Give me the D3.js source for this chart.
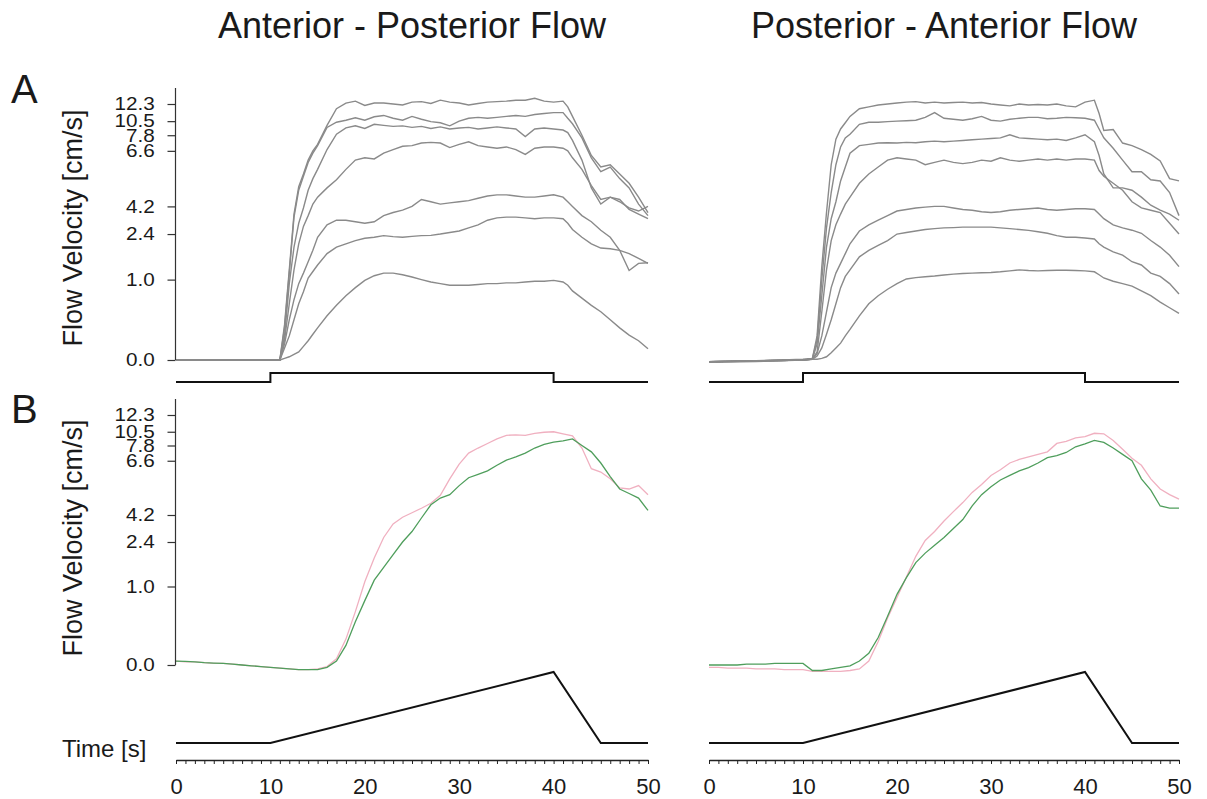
<!DOCTYPE html>
<html>
<head>
<meta charset="utf-8">
<script src="https://cdnjs.cloudflare.com/ajax/libs/d3/7.8.5/d3.min.js"></script>
<style>
  body { margin: 0; background: #fff; }
  text { font-family: Arial, "Liberation Sans", sans-serif; fill: #1a1a1a; }
</style>
</head>
<body>
<svg id="chart" width="1207" height="799"></svg>
<script>
// ---- data ----
var yTicks = [0.0, 1.0, 2.4, 4.2, 6.6, 7.8, 10.5, 12.3];
var xTicks = [0, 10, 20, 30, 40, 50];

// sample times (s) of the panel A traces
var timeA = [0, 5, 10, 11, 11.5, 12, 12.5, 13, 13.5, 14, 14.5, 15, 16, 17, 18, 19, 20, 21, 22, 23, 24, 25,
  26, 27, 28, 29, 30, 31, 32, 33, 34, 35, 36, 37, 38, 39, 40, 41, 41.5, 42, 43, 44, 45, 46, 47, 48, 49, 50];

// Anterior - Posterior, panel A (7 traces, cm/s)
var apA1 = [0, 0, 0, 0, 0.44, 1.3, 3.7, 5.05, 5.6, 6.2, 6.6, 7.1, 9.7, 11.8, 12.4, 12.6, 12.15, 12.4, 12.4, 12.3, 12.2, 12.5,
  12.55, 12.35, 12.7, 12.5, 12.4, 12.2, 12.35, 12.5, 12.55, 12.6, 12.7, 12.7, 12.9, 12.6, 12.5, 12.6, 12.0, 11.0, 7.8, 6.4, 5.9, 6.0, 5.6, 5.2, 4.6, 3.8];
var apA2 = [0, 0, 0, 0, 0.4, 1.2, 3.5, 4.9, 5.5, 6.1, 6.5, 7.0, 9.3, 10.3, 10.6, 10.85, 10.6, 10.96, 11.1, 10.8, 10.6, 11.0,
  10.7, 10.4, 10.2, 9.6, 10.5, 10.8, 10.9, 10.8, 10.9, 11.0, 11.1, 11.0, 11.2, 11.3, 11.4, 11.4, 10.8, 10.0, 7.6, 6.3, 5.7, 5.9, 5.4, 5.0, 4.3, 3.6];
var apA3 = [0, 0, 0, 0, 0.3, 0.95, 2.0, 3.1, 4.1, 4.9, 5.4, 5.8, 6.7, 8.0, 9.2, 9.6, 9.1, 9.9, 9.7, 9.5, 9.6, 9.3,
  9.5, 9.1, 9.4, 9.0, 9.2, 9.3, 9.0, 9.2, 9.4, 9.2, 9.0, 7.7, 9.0, 9.2, 9.0, 8.8, 8.3, 7.4, 6.2, 5.0, 4.3, 4.6, 4.5, 4.0, 3.7, 3.4];
var apA4 = [0, 0, 0, 0, 0.25, 0.7, 1.3, 2.1, 2.9, 3.6, 4.3, 4.6, 5.0, 5.35, 5.8, 6.2, 6.3, 6.25, 6.5, 6.7, 6.95, 7.0,
  7.2, 7.25, 7.2, 6.85, 7.1, 7.3, 7.0, 6.9, 6.8, 6.9, 6.7, 6.45, 6.8, 6.9, 6.9, 6.8, 6.6, 6.3, 5.8, 5.1, 4.5, 4.6, 4.4, 4.1, 3.9, 4.2];
var apA5 = [0, 0, 0, 0, 0.2, 0.5, 0.75, 0.95, 1.2, 1.55, 1.9, 2.3, 3.0, 3.3, 3.3, 3.2, 3.1, 3.2, 3.6, 3.8, 3.96, 4.2,
  4.5, 4.4, 4.3, 4.35, 4.4, 4.45, 4.55, 4.65, 4.7, 4.7, 4.65, 4.6, 4.6, 4.65, 4.7, 4.6, 4.4, 4.2, 3.6, 3.2, 2.65, 2.3, 1.9, 1.28, 1.5, 1.52];
var apA6 = [0, 0, 0, 0, 0.15, 0.3, 0.5, 0.7, 0.85, 1.05, 1.25, 1.45, 1.8, 2.0, 2.1, 2.2, 2.27, 2.3, 2.35, 2.32, 2.3, 2.33,
  2.35, 2.36, 2.4, 2.5, 2.6, 2.8, 3.0, 3.3, 3.45, 3.5, 3.5, 3.45, 3.4, 3.45, 3.45, 3.4, 3.1, 2.7, 2.3, 2.1, 1.97, 1.95, 1.9, 1.8, 1.65, 1.5];
var apA7 = [0, 0, 0, 0, 0.02, 0.04, 0.07, 0.1, 0.17, 0.24, 0.32, 0.4, 0.55, 0.68, 0.8, 0.9, 0.99, 1.12, 1.2, 1.2, 1.15, 1.08,
  1.0, 0.97, 0.95, 0.93, 0.93, 0.93, 0.94, 0.95, 0.95, 0.96, 0.96, 0.97, 0.98, 0.98, 0.99, 0.97, 0.93, 0.86, 0.77, 0.68, 0.6, 0.5, 0.4, 0.31, 0.24, 0.14];

// Posterior - Anterior, panel A
var paA1 = [-0.02, -0.01, 0.01, 0.02, 0.3, 1.4, 3.8, 6.0, 7.5, 9.0, 10.2, 11.0, 11.8, 12.0, 12.2, 12.3, 12.4, 12.5, 12.55, 12.4, 12.5, 12.4,
  12.45, 12.5, 12.4, 12.45, 12.3, 12.2, 12.1, 12.3, 12.2, 12.25, 12.2, 12.3, 12.1, 12.0, 12.5, 12.7, 11.3, 8.7, 8.9, 7.2, 7.0, 6.7, 6.45, 6.16, 5.4, 5.3];
var paA2 = [-0.02, -0.01, 0.0, 0.02, 0.25, 1.0, 2.8, 4.8, 6.0, 6.9, 7.6, 8.0, 9.9, 10.3, 10.3, 10.4, 10.5, 10.55, 10.6, 10.9, 11.4, 10.8,
  10.7, 10.6, 10.75, 11.0, 10.6, 10.5, 10.7, 10.8, 10.9, 10.9, 10.75, 10.8, 10.9, 10.85, 10.8, 10.6, 9.0, 7.6, 6.8, 6.2, 5.7, 5.7, 5.35, 5.3, 4.8, 3.6];
var paA3 = [-0.03, -0.01, 0.0, 0.01, 0.2, 0.8, 2.0, 3.4, 4.4, 5.3, 5.9, 6.5, 7.0, 7.1, 7.2, 7.22, 7.2, 7.25, 7.22, 7.3, 7.35, 7.3,
  7.35, 7.4, 7.45, 7.5, 7.55, 7.6, 7.9, 7.6, 7.55, 7.5, 7.45, 7.5, 7.4, 7.6, 7.9, 7.3, 6.4, 5.6, 5.0, 5.0, 4.9, 4.6, 4.25, 3.96, 3.7, 3.3];
var paA4 = [-0.03, -0.02, 0.0, 0.01, 0.1, 0.6, 1.3, 2.2, 3.0, 3.7, 4.3, 4.6, 5.2, 5.6, 5.9, 6.2, 6.3, 6.25, 6.2, 6.0, 6.1, 6.2,
  6.1, 6.05, 6.1, 6.2, 6.15, 6.3, 6.2, 6.15, 6.2, 6.25, 6.2, 6.25, 6.2, 6.25, 6.25, 6.2, 5.75, 5.5, 5.2, 4.9, 4.4, 4.1, 3.95, 3.8, 3.1, 2.4];
var paA5 = [-0.02, -0.01, 0.0, 0.01, 0.08, 0.3, 0.6, 0.9, 1.2, 1.5, 1.8, 2.1, 2.6, 3.0, 3.3, 3.6, 3.9, 4.0, 4.1, 4.15, 4.2, 4.2,
  4.1, 4.0, 3.95, 3.85, 3.8, 3.85, 3.95, 4.0, 4.05, 4.1, 4.0, 3.95, 4.0, 4.05, 4.05, 4.0, 3.7, 3.4, 3.0, 2.8, 2.65, 2.45, 2.2, 2.0, 1.75, 1.4];
var paA6 = [-0.02, -0.01, 0.0, 0.01, 0.05, 0.15, 0.32, 0.5, 0.7, 0.9, 1.1, 1.3, 1.7, 1.9, 2.05, 2.2, 2.4, 2.5, 2.6, 2.7, 2.75, 2.8,
  2.82, 2.85, 2.85, 2.85, 2.85, 2.8, 2.75, 2.7, 2.64, 2.55, 2.45, 2.35, 2.3, 2.3, 2.28, 2.25, 2.1, 2.0, 1.85, 1.75, 1.55, 1.45, 1.2, 1.1, 0.95, 0.82];
var paA7 = [-0.02, -0.01, 0.0, 0.01, 0.01, 0.02, 0.04, 0.09, 0.15, 0.21, 0.3, 0.38, 0.55, 0.7, 0.8, 0.88, 0.95, 1.02, 1.06, 1.09, 1.11, 1.14,
  1.17, 1.19, 1.2, 1.21, 1.22, 1.24, 1.27, 1.3, 1.28, 1.27, 1.28, 1.29, 1.29, 1.28, 1.27, 1.24, 1.15, 1.05, 0.98, 0.95, 0.92, 0.86, 0.8, 0.72, 0.65, 0.58];

// panel B, one sample per second
var timeB = [0, 1, 2, 3, 4, 5, 6, 7, 8, 9, 10, 11, 12, 13, 14, 15, 16, 17, 18, 19, 20, 21, 22, 23, 24, 25,
  26, 27, 28, 29, 30, 31, 32, 33, 34, 35, 36, 37, 38, 39, 40, 41, 42, 43, 44, 45, 46, 47, 48, 49, 50];
var apPink = [0.05, 0.04, 0.04, 0.03, 0.02, 0.02, 0.01, 0.0, -0.01, -0.02, -0.03, -0.04, -0.05, -0.06, -0.06, -0.05,
  -0.02, 0.08, 0.33, 0.68, 1.15, 1.9, 2.7, 3.6, 4.05, 4.3, 4.5, 4.72, 5.07, 5.8, 6.45, 7.2, 7.6, 8.2, 9.1, 9.8,
  9.9, 9.8, 10.2, 10.4, 10.5, 10.1, 9.7, 7.6, 6.25, 6.1, 5.8, 5.4, 5.35, 5.5, 5.1];
var apGreen = [0.05, 0.045, 0.04, 0.03, 0.025, 0.02, 0.01, 0.0, -0.01, -0.02, -0.03, -0.04, -0.05, -0.06, -0.06, -0.06,
  -0.03, 0.05, 0.25, 0.55, 0.82, 1.2, 1.6, 2.0, 2.4, 3.1, 4.0, 4.65, 4.95, 5.1, 5.5, 5.85, 6.0, 6.15, 6.4, 6.65,
  6.9, 7.2, 7.6, 8.0, 8.45, 8.7, 9.1, 7.8, 7.3, 6.5, 5.9, 5.35, 5.15, 4.95, 4.4];
var paPink = [-0.03, -0.03, -0.04, -0.04, -0.04, -0.05, -0.05, -0.05, -0.06, -0.06, -0.06, -0.08, -0.08, -0.08, -0.08, -0.07,
  -0.05, 0.05, 0.3, 0.6, 0.86, 1.3, 1.95, 2.5, 3.1, 3.8, 4.35, 4.75, 5.2, 5.55, 5.95, 6.2, 6.5, 6.7, 6.9, 7.1,
  7.3, 8.2, 8.6, 9.3, 9.55, 10.2, 10.1, 8.8, 7.5, 6.8, 6.4, 5.8, 5.35, 5.1, 4.9];
var paGreen = [0.0, 0.0, 0.0, 0.0, 0.01, 0.01, 0.01, 0.02, 0.02, 0.02, 0.02, -0.07, -0.07, -0.05, -0.03, -0.01,
  0.05, 0.15, 0.35, 0.62, 0.9, 1.28, 1.75, 2.05, 2.3, 2.7, 3.3, 3.9, 4.6, 5.1, 5.45, 5.75, 5.95, 6.15, 6.3, 6.5,
  6.85, 7.0, 7.25, 7.7, 8.1, 8.8, 8.4, 7.6, 7.1, 6.6, 5.8, 5.3, 4.6, 4.5, 4.5];

// stimulus protocols
var stepTimes = [0, 10, 10, 40, 40, 50];
var stepLevels = [0, 0, 1, 1, 0, 0];
var rampTimes = [0, 10, 40, 45, 50];
var rampLevels = [0, 0, 1, 0, 0];

// ---- layout ----
var svg = d3.select("#chart");
var tickPos = [0, 0.314, 0.492, 0.600, 0.817, 0.878, 0.933, 1]; // where each tick sits on the axis (fraction)

function flowScale(y0, yTop) {
  return d3.scaleLinear().domain(yTicks).range(tickPos.map(function(f) { return y0 - (y0 - yTop) * f; }));
}
var yA = flowScale(360, 104);
var yB = flowScale(665, 415);
var stepY = d3.scaleLinear().domain([0, 1]).range([382, 373]);
var rampY = d3.scaleLinear().domain([0, 1]).range([743, 672]);

var panels = [
  {x: d3.scaleLinear().domain([0, 50]).range([176, 648]), traces: [apA1, apA2, apA3, apA4, apA5, apA6, apA7],
   pink: apPink, green: apGreen, title: "Anterior - Posterior Flow"},
  {x: d3.scaleLinear().domain([0, 50]).range([709, 1179]), traces: [paA1, paA2, paA3, paA4, paA5, paA6, paA7],
   pink: paPink, green: paGreen, title: "Posterior - Anterior Flow"}
];

function seriesPath(x, y, time) {
  return d3.line().x(function(d, i) { return x(time[i]); }).y(function(d) { return y(d); });
}

panels.forEach(function(p) {
  var x = p.x;
  var mid = (x.range()[0] + x.range()[1]) / 2;

  svg.append("text").attr("x", mid).attr("y", 38).attr("text-anchor", "middle")
    .style("font-size", "36px").text(p.title);

  // panel A traces
  svg.append("g").selectAll("path").data(p.traces).enter().append("path")
    .attr("d", seriesPath(x, yA, timeA))
    .attr("fill", "none").attr("stroke", "#8a8a8a").attr("stroke-width", 1.4);

  // step stimulus
  svg.append("path").datum(stepLevels)
    .attr("d", seriesPath(x, stepY, stepTimes))
    .attr("fill", "none").attr("stroke", "#111").attr("stroke-width", 2);

  // panel B traces
  svg.append("path").datum(p.pink).attr("d", seriesPath(x, yB, timeB))
    .attr("fill", "none").attr("stroke", "#f0b0c0").attr("stroke-width", 1.3);
  svg.append("path").datum(p.green).attr("d", seriesPath(x, yB, timeB))
    .attr("fill", "none").attr("stroke", "#4f9e5c").attr("stroke-width", 1.3);

  // ramp stimulus
  svg.append("path").datum(rampLevels)
    .attr("d", seriesPath(x, rampY, rampTimes))
    .attr("fill", "none").attr("stroke", "#111").attr("stroke-width", 2);

  // time axis: minor ticks every second, labels every 10 s
  var minor = svg.append("g").attr("transform", "translate(0,760)")
    .call(d3.axisBottom(x).tickValues(timeB).tickSize(4).tickSizeOuter(0).tickFormat(""));
  minor.selectAll("line").attr("stroke", "#222");
  minor.select(".domain").attr("stroke", "#222").attr("stroke-width", 1.6);

  var major = svg.append("g").attr("transform", "translate(0,760)")
    .call(d3.axisBottom(x).tickValues(xTicks).tickSize(0).tickPadding(18));
  major.select(".domain").remove();
  major.selectAll("text").style("font-size", "22px").attr("fill", "#1a1a1a");
});

// y axes (left column only)
[[yA, 360, 104, 228, "A", 103], [yB, 665, 415, 538, "B", 423]].forEach(function(r) {
  var y = r[0];
  var ax = svg.append("g").attr("transform", "translate(175.5,0)")
    .call(d3.axisLeft(y).tickValues(yTicks).tickFormat(d3.format(".1f")).tickSize(8).tickPadding(10));
  ax.select(".domain").remove();
  ax.selectAll("line").attr("stroke", "#333").attr("stroke-width", 1.2);
  // labels in the original are slightly wide, stretch them a bit
  ax.selectAll("text").style("font-size", "18px").attr("fill", "#1a1a1a")
    .attr("transform", "scale(1.15,1)");
  svg.append("line").attr("x1", 175.5).attr("x2", 175.5).attr("y1", r[1]).attr("y2", r[2] - 16)
    .attr("stroke", "#333").attr("stroke-width", 1.2);

  svg.append("text").attr("transform", "translate(82," + r[3] + ") rotate(-90)")
    .attr("text-anchor", "middle").style("font-size", "27px").text("Flow Velocity [cm/s]");
  svg.append("text").attr("x", 11).attr("y", r[5]).style("font-size", "40px").text(r[4]);
});

svg.append("text").attr("x", 62).attr("y", 757).style("font-size", "24px").text("Time [s]");
</script>
</body>
</html>
